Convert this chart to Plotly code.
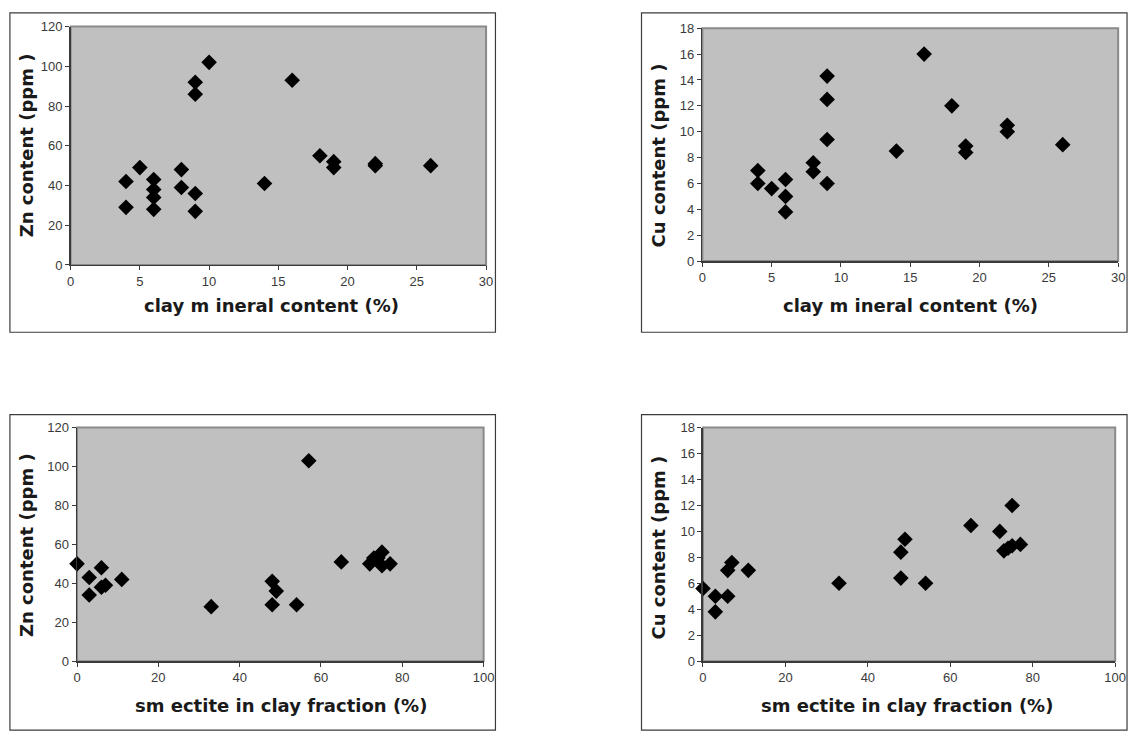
import plotly.graph_objects as go

W, H = 1140, 740

# ---- data ----
clay_zn = [4, 4, 5, 6, 6, 6, 6, 8, 8, 9, 9, 9, 9, 10, 14, 16, 18, 19, 19, 22, 22, 26]
zn_clay = [42, 29, 49, 43, 38, 34, 28, 48, 39, 92, 86, 36, 27, 102, 41, 93, 55, 52, 49, 51, 50, 50]

clay_cu = [4, 4, 5, 6, 6, 6, 8, 8, 9, 9, 9, 9, 14, 16, 18, 19, 19, 22, 22, 26]
cu_clay = [7.0, 6.0, 5.6, 6.3, 5.0, 3.8, 7.6, 6.9, 14.3, 12.5, 9.4, 6.0, 8.5, 16.0, 12.0, 8.9, 8.4, 10.5, 10.0, 9.0]

smec_zn = [0, 3, 3, 6, 6, 7, 11, 33, 48, 49, 48, 54, 57, 65, 72, 73, 74, 75, 75, 77]
zn_smec = [50, 43, 34, 48, 38, 39, 42, 28, 41, 36, 29, 29, 103, 51, 50, 53, 53, 56, 49, 50]

smec_cu = [0, 3, 3, 6, 7, 6, 11, 33, 48, 49, 48, 54, 65, 72, 75, 73, 74, 75, 77]
cu_smec = [5.6, 5.0, 3.8, 7.0, 7.6, 5.0, 7.0, 6.0, 8.4, 9.4, 6.4, 6.0, 10.45, 10.0, 12.0, 8.5, 8.7, 8.9, 9.0]

x_title_clay = "clay m ineral content (%)"
x_title_smec = "sm ectite in clay fraction (%)"
y_title_zn = "Zn content (ppm )"
y_title_cu = "Cu content (ppm )"

# ---- layout geometry (pixels) ----
panels = [
    dict(px=(67.5, 488.5), py=(20, 263.3), box=(6, 498, 6, 332), xr=[0, 30], xd=5, yr=[0, 120], yd=20,
         xt=x_title_clay, yt=y_title_zn, xtpos=(271, 305), ytpos=(23, 141.5), x=clay_zn, y=zn_clay),
    dict(px=(707.7, 1129), py=(21.7, 259.3), box=(646, 1138, 6, 332), xr=[0, 30], xd=5, yr=[0, 18], yd=2,
         xt=x_title_clay, yt=y_title_cu, xtpos=(919, 305), ytpos=(663.5, 151.7), x=clay_cu, y=cu_clay),
    dict(px=(74, 486), py=(429.3, 667.7), box=(6, 498, 416, 738), xr=[0, 100], xd=20, yr=[0, 120], yd=20,
         xt=x_title_smec, yt=y_title_zn, xtpos=(280.5, 713), ytpos=(23.5, 549), x=smec_zn, y=zn_smec),
    dict(px=(708.3, 1126), py=(429.3, 667.7), box=(646, 1138, 416, 738), xr=[0, 100], xd=20, yr=[0, 18], yd=2,
         xt=x_title_smec, yt=y_title_cu, xtpos=(915.5, 713), ytpos=(663.5, 552), x=smec_cu, y=cu_smec),
]

fig = go.Figure()
layout = dict(
    width=W, height=H, margin=dict(l=0, r=0, t=0, b=0),
    paper_bgcolor="white", plot_bgcolor="#c0c0c0", showlegend=False,
    shapes=[], annotations=[],
)

tickfont = dict(family="Liberation Sans, Arial", size=13, color="#3a3a3a")
titlefont = dict(family="DejaVu Sans", size=18, color="#1a1a1a")

for i, p in enumerate(panels, start=1):
    xa = "xaxis" if i == 1 else f"xaxis{i}"
    ya = "yaxis" if i == 1 else f"yaxis{i}"
    xref = "x" if i == 1 else f"x{i}"
    yref = "y" if i == 1 else f"y{i}"
    layout[xa] = dict(
        domain=[p["px"][0] / W, p["px"][1] / W], anchor=yref, range=p["xr"], dtick=p["xd"],
        showgrid=False, zeroline=False, showline=True, linecolor="#3a3a3a", linewidth=1.5,
        ticks="outside", ticklen=4, tickcolor="#3a3a3a", tickfont=tickfont, fixedrange=True,
    )
    layout[ya] = dict(
        domain=[(H - p["py"][1]) / H, (H - p["py"][0]) / H], anchor=xref, range=p["yr"], dtick=p["yd"],
        showgrid=False, zeroline=False, showline=True, linecolor="#3a3a3a", linewidth=1.5,
        ticks="outside", ticklen=4, tickcolor="#3a3a3a", tickfont=tickfont, fixedrange=True,
    )
    fig.add_trace(go.Scatter(
        x=p["x"], y=p["y"], mode="markers", xaxis=xref, yaxis=yref,
        marker=dict(symbol="diamond", size=12, color="black", line=dict(width=0)),
        cliponaxis=False, hoverinfo="skip",
    ))
    layout["shapes"].append(dict(
        type="rect", xref=f"{xref} domain", yref=f"{yref} domain", x0=0, x1=1, y0=0, y1=1,
        line=dict(color="#8a8a8a", width=2), layer="below",
    ))
    bl, br, bt, bb = p["box"]
    layout["shapes"].append(dict(
        type="rect", xref="paper", yref="paper", x0=bl / W, x1=br / W, y0=(H - bb) / H, y1=(H - bt) / H,
        line=dict(color="#3c3c3c", width=1.2), fillcolor="rgba(0,0,0,0)", layer="above",
    ))
    layout["annotations"].append(dict(
        text=f"<b>{p['xt']}</b>", xref="paper", yref="paper", x=p["xtpos"][0] / W, y=(H - p["xtpos"][1]) / H,
        showarrow=False, xanchor="center", yanchor="middle", font=titlefont,
    ))
    layout["annotations"].append(dict(
        text=f"<b>{p['yt']}</b>", xref="paper", yref="paper", x=p["ytpos"][0] / W, y=(H - p["ytpos"][1]) / H,
        showarrow=False, xanchor="center", yanchor="middle", textangle=-90, font=titlefont,
    ))

fig.update_layout(**layout)
fig.write_html(
    "out.html",
    config={"displayModeBar": False, "staticPlot": True},
    post_script="document.body.style.margin='0px';document.body.style.overflow='hidden';",
)
